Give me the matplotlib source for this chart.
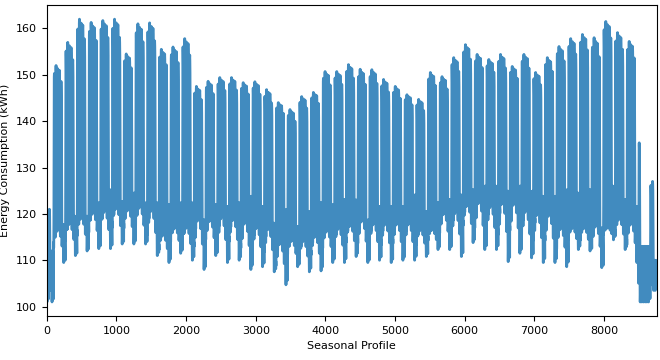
import numpy as np
import matplotlib
matplotlib.use('Agg')
import matplotlib.pyplot as plt

# Weekly levels (week 0 = Thu 1 Jan .. Sun 4 Jan, weeks start on Monday)
week_peak = [122, 152, 157, 162, 161.3, 161.7, 162, 154.5, 161, 161.2, 155.5, 156, 157.8,
             147.5, 148.6, 149.4, 149.4, 148.3, 148.5, 146.8, 144, 142.5, 145.3, 146.2, 150.7,
             150.7, 152.2, 151.2, 151.1, 149, 147.5, 145.7, 144.7, 150.5, 149.6, 153.7, 156.5,
             154.4, 153.3, 154.4, 151.8, 154.4, 150.5, 153.7, 156.1, 157.8, 158.7, 158, 161.5,
             159.1, 157.2, 136.5, 127]
week_trough = [101, 109.5, 111, 112, 112.5, 112.5, 113.5, 113.5, 113.5, 111, 109.5, 111.5, 110,
               108, 111, 109.5, 110, 108, 108.6, 107.5, 104.7, 108.6, 107.5, 107.7, 109.5,
               109.5, 110.8, 109.5, 110, 109.5, 110, 110, 110.8, 112.3, 112.3, 110.8, 113.8,
               112.3, 112.3, 109.7, 111.5, 110.5, 109.5, 109.5, 108.6, 112.3, 112, 108.4, 114.4,
               112.3, 109.5, 101, 103.5]
week_night = [106, 116.6, 118, 119.2, 120.3, 120.7, 121.4, 121, 121.6, 121, 115.5, 117, 117.2,
              119, 118.7, 119.4, 119, 118.3, 117.2, 117, 113.8, 114.3, 114.3, 115.3, 116.4,
              117, 117.6, 118.7, 118, 118, 118, 118, 116.6, 116.6, 120.2, 120.5, 122, 122.7,
              121.8, 122.7, 122.4, 120.8, 120.2, 120, 117, 117, 117, 117.6, 117, 119, 118, 110, 106]
week_weekend_hi = [112, 117.7, 119.5, 119.5, 122.4, 125.2, 122.7, 124.5, 122.4, 122.4, 122, 122.4,
                   122.4, 118.7, 122, 121.6, 122.4, 123.8, 121.6, 118, 120.9, 117.3, 120.5, 122.4,
                   122, 123.1, 123, 118.7, 121.6, 121.6, 121.6, 124.1, 120.5, 122.4, 123.1, 124.1,
                   125.2, 126, 126, 124.9, 126, 124.9, 123.8, 123.8, 125.2, 124.5, 125.2, 117, 126,
                   123.1, 121.6, 113, 110]

# Mon..Sun shares, and the hourly shape of a day
day_peak_share = [0.95, 1.0, 0.98, 0.97, 0.9]
day_low_share = [0.45, 0.8, 0.95, 1.0, 0.8, 0.5, 0.0]
hour_shape = [0.03, 0.01, 0.0, 0.01, 0.05, 0.15, 0.35, 0.62, 0.85, 0.95, 0.98, 1.0,
              1.0, 0.99, 0.97, 0.95, 0.9, 0.82, 0.7, 0.55, 0.4, 0.25, 0.12, 0.06]
holidays = [0, 355, 356, 357, 358, 359, 363, 364]

# Build hourly series
load = []
for d in range(365):
    w = (d + 3) // 7
    dow = (d + 3) % 7
    if d in holidays:
        dow = 6
    lo = week_trough[w] + day_low_share[dow] * (week_night[w] - week_trough[w])
    if dow < 5:
        hi = week_weekend_hi[w] + day_peak_share[dow] * (week_peak[w] - week_weekend_hi[w])
    else:
        hi = week_weekend_hi[w]
    for h in range(24):
        load.append(lo + (hi - lo) * hour_shape[h])
load = np.array(load)

fig = plt.figure(figsize=(6.6, 3.6), dpi=100)
ax = fig.add_axes([0.071, 0.122, 0.924, 0.864])
ax.plot(np.arange(len(load)), load, color='#1f77b4', lw=2, alpha=0.85)
ax.set_xlim(0, len(load) - 1)
ax.set_yticks(np.arange(100, 161, 10))
ax.tick_params(labelsize=8)
ax.set_xlabel('Seasonal Profile', fontsize=8)
ax.set_ylabel('Energy Consumption (kWh)', fontsize=8)
fig.savefig('out.png')
